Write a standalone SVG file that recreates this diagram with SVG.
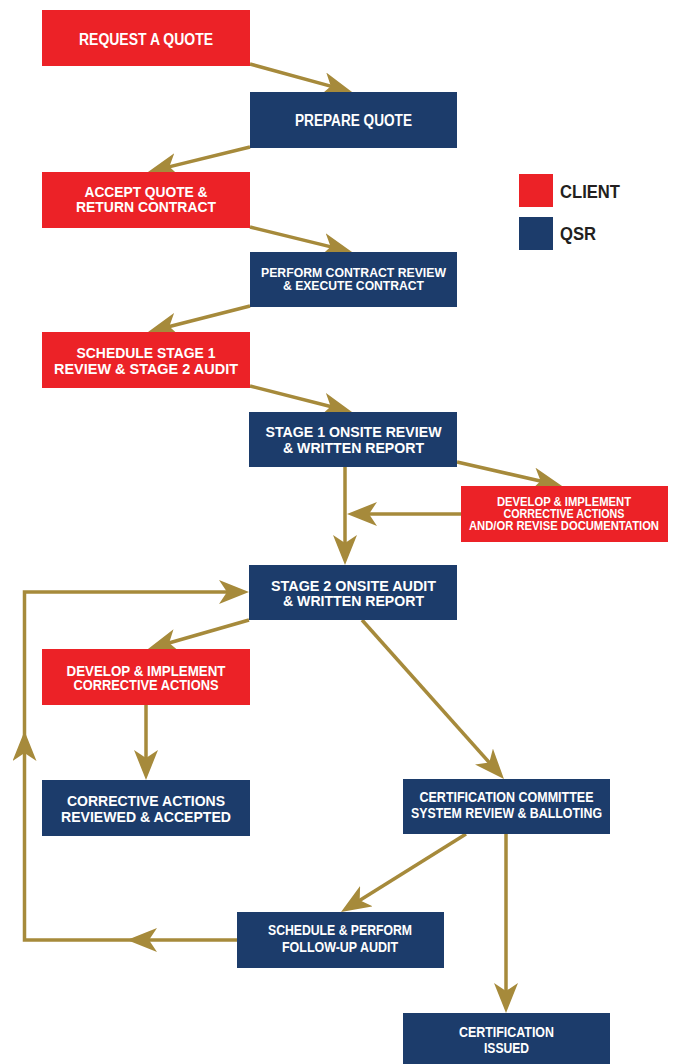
<svg xmlns="http://www.w3.org/2000/svg" width="673" height="1064" viewBox="0 0 673 1064">
<style>
.client{fill:#EC2227;}
.qsr{fill:#1C3C6B;}
.t{font-family:"Liberation Sans",Arial,sans-serif;font-weight:bold;fill:#FFFFFF;text-anchor:middle;}
.s16{font-size:16px;}
.s14{font-size:14.5px;}
.s13{font-size:13.5px;}
.s12{font-size:12px;}
.leg{font-family:"Liberation Sans",Arial,sans-serif;font-weight:bold;font-size:18px;fill:#231F20;}
.c{fill:none;stroke:#A68A3B;stroke-width:3.5;marker-end:url(#ah);}
.cn{fill:none;stroke:#A68A3B;stroke-width:3.5;}
</style>
<defs>
<marker id="ah" viewBox="0 0 30 24" refX="20" refY="12" markerWidth="30" markerHeight="24" markerUnits="userSpaceOnUse" orient="auto">
<path d="M0,0 L30,12 L0,24 L8,12 Z" fill="#A68A3B"/>
</marker>
</defs>
<rect width="673" height="1064" fill="#FFFFFF"/>
<g id="connectors">
<path class="c" d="M250,64 L342.4,89.4"/>
<path class="c" d="M250,147 L157.7,169.6"/>
<path class="c" d="M250,227 L342.3,249.6"/>
<path class="c" d="M250,306 L157.7,329.5"/>
<path class="c" d="M250,386 L342.3,409.5"/>
<path class="c" d="M457,462 L552.3,483.8"/>
<path class="c" d="M461,514 L357,514"/>
<path class="c" d="M345,467 L345,555"/>
<path class="c" d="M249,620 L157.6,646.2"/>
<path class="c" d="M146,705 L146,770"/>
<path class="c" d="M362,620 L497.3,771.5"/>
<path class="c" d="M466,834 L349.5,906.7"/>
<path class="c" d="M506,834 L506,1003"/>
<path class="c" d="M237,940 L137,940"/>
<path class="c" d="M137,940 L24.5,940 L24.5,741"/>
<path class="c" d="M24.5,743 L24.5,592 L239,592"/>
</g>
<g id="request-quote">
<rect class="client" x="42" y="10" width="208" height="56"/>
<text class="t s16" x="146" y="45" textLength="134" lengthAdjust="spacingAndGlyphs">REQUEST A QUOTE</text>
</g>
<g id="prepare-quote">
<rect class="qsr" x="250" y="92" width="207" height="56"/>
<text class="t s16" x="353.5" y="126" textLength="117" lengthAdjust="spacingAndGlyphs">PREPARE QUOTE</text>
</g>
<g id="accept-quote">
<rect class="client" x="42" y="172" width="208" height="56"/>
<text class="t s14" x="146" y="197" textLength="123" lengthAdjust="spacingAndGlyphs">ACCEPT QUOTE &amp;</text>
<text class="t s14" x="146" y="212" textLength="140" lengthAdjust="spacingAndGlyphs">RETURN CONTRACT</text>
</g>
<g id="contract-review">
<rect class="qsr" x="250" y="252" width="207" height="55"/>
<text class="t s13" x="353.5" y="277" textLength="185" lengthAdjust="spacingAndGlyphs">PERFORM CONTRACT REVIEW</text>
<text class="t s13" x="353.5" y="290" textLength="141" lengthAdjust="spacingAndGlyphs">&amp; EXECUTE CONTRACT</text>
</g>
<g id="schedule-stage1">
<rect class="client" x="42" y="332" width="208" height="56"/>
<text class="t s14" x="146" y="358" textLength="139" lengthAdjust="spacingAndGlyphs">SCHEDULE STAGE 1</text>
<text class="t s14" x="146" y="374" textLength="184" lengthAdjust="spacingAndGlyphs">REVIEW &amp; STAGE 2 AUDIT</text>
</g>
<g id="stage1-review">
<rect class="qsr" x="249" y="412" width="208" height="55"/>
<text class="t s14" x="353.5" y="437" textLength="176" lengthAdjust="spacingAndGlyphs">STAGE 1 ONSITE REVIEW</text>
<text class="t s14" x="353.5" y="453" textLength="141" lengthAdjust="spacingAndGlyphs">&amp; WRITTEN REPORT</text>
</g>
<g id="develop-revise">
<rect class="client" x="461" y="486" width="207" height="56"/>
<text class="t s12" x="564" y="506" textLength="134" lengthAdjust="spacingAndGlyphs">DEVELOP &amp; IMPLEMENT</text>
<text class="t s12" x="564" y="518" textLength="121" lengthAdjust="spacingAndGlyphs">CORRECTIVE ACTIONS</text>
<text class="t s12" x="564" y="530" textLength="190" lengthAdjust="spacingAndGlyphs">AND/OR REVISE DOCUMENTATION</text>
</g>
<g id="stage2-audit">
<rect class="qsr" x="249" y="565" width="208" height="55"/>
<text class="t s14" x="353.5" y="591" textLength="165" lengthAdjust="spacingAndGlyphs">STAGE 2 ONSITE AUDIT</text>
<text class="t s14" x="353.5" y="606" textLength="141" lengthAdjust="spacingAndGlyphs">&amp; WRITTEN REPORT</text>
</g>
<g id="develop-corrective">
<rect class="client" x="42" y="649" width="208" height="56"/>
<text class="t s14" x="146" y="676" textLength="159" lengthAdjust="spacingAndGlyphs">DEVELOP &amp; IMPLEMENT</text>
<text class="t s14" x="146" y="690" textLength="145" lengthAdjust="spacingAndGlyphs">CORRECTIVE ACTIONS</text>
</g>
<g id="corrective-reviewed">
<rect class="qsr" x="42" y="780" width="208" height="56"/>
<text class="t s14" x="146" y="806" textLength="158" lengthAdjust="spacingAndGlyphs">CORRECTIVE ACTIONS</text>
<text class="t s14" x="146" y="822" textLength="170" lengthAdjust="spacingAndGlyphs">REVIEWED &amp; ACCEPTED</text>
</g>
<g id="certification-committee">
<rect class="qsr" x="403" y="779" width="207" height="55"/>
<text class="t s14" x="506.5" y="802" textLength="174" lengthAdjust="spacingAndGlyphs">CERTIFICATION COMMITTEE</text>
<text class="t s14" x="506.5" y="818" textLength="191" lengthAdjust="spacingAndGlyphs">SYSTEM REVIEW &amp; BALLOTING</text>
</g>
<g id="follow-up-audit">
<rect class="qsr" x="237" y="912" width="207" height="56"/>
<text class="t s14" x="340" y="935" textLength="144" lengthAdjust="spacingAndGlyphs">SCHEDULE &amp; PERFORM</text>
<text class="t s14" x="340" y="952" textLength="116" lengthAdjust="spacingAndGlyphs">FOLLOW-UP AUDIT</text>
</g>
<g id="certification-issued">
<rect class="qsr" x="403" y="1013" width="207" height="51"/>
<text class="t s14" x="506.5" y="1037" textLength="95" lengthAdjust="spacingAndGlyphs">CERTIFICATION</text>
<text class="t s14" x="506.5" y="1053" textLength="45" lengthAdjust="spacingAndGlyphs">ISSUED</text>
</g>
<g id="legend">
<rect class="client" x="519" y="174" width="34" height="33"/>
<rect class="qsr" x="519" y="217" width="34" height="33"/>
<text class="leg" x="560" y="198" textLength="60" lengthAdjust="spacingAndGlyphs">CLIENT</text>
<text class="leg" x="560" y="240" textLength="36" lengthAdjust="spacingAndGlyphs">QSR</text>
</g>
</svg>
